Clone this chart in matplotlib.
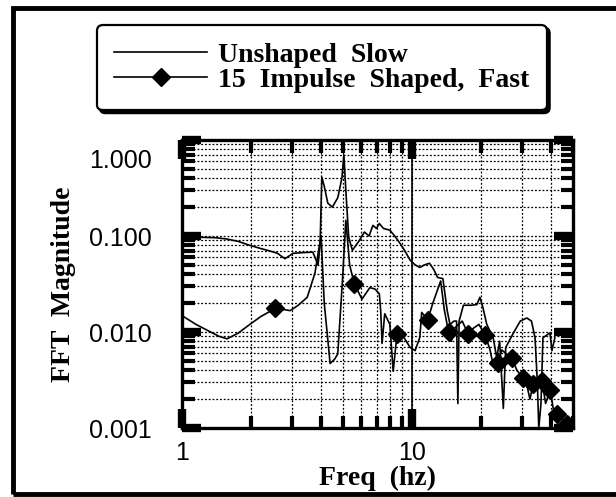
import matplotlib
matplotlib.use("Agg")
from matplotlib import pyplot as plt
from matplotlib.patches import Rectangle
from matplotlib.ticker import LogLocator, NullFormatter, FixedLocator

# unshaped slow response
unshaped_freq = [1.0, 1.2, 1.4, 1.57, 1.75, 1.97, 2.2, 2.4, 2.6, 2.8, 3.04, 3.3, 3.7,
                 3.9, 3.98, 4.05, 4.15, 4.3, 4.5, 4.75, 4.95, 5.05, 5.15, 5.3, 5.5,
                 5.7, 5.9, 6.2, 6.5, 6.75, 7.0, 7.2, 7.5, 8.0, 8.4, 8.85, 9.3, 9.8,
                 10.3, 10.8, 11.3, 11.9, 12.4, 12.9, 13.6, 14.2, 14.6, 15.2, 15.6,
                 15.8, 16.0, 16.7, 18.0, 19.1, 19.7, 20.3, 21.1, 22.5, 23.3, 24.0,
                 24.9, 25.5, 27.5, 29.5, 31.5, 33.0, 34.2, 35.0, 35.5, 36.3, 37.0,
                 39.7, 40.5, 41.7]
unshaped_mag = [0.095, 0.097, 0.096, 0.093, 0.088, 0.080, 0.074, 0.070, 0.066, 0.058,
                0.066, 0.067, 0.068, 0.050, 0.080, 0.41, 0.33, 0.22, 0.20, 0.25, 0.40,
                0.70, 0.30, 0.097, 0.071, 0.080, 0.090, 0.11, 0.10, 0.129, 0.12, 0.135,
                0.12, 0.115, 0.10, 0.084, 0.070, 0.056, 0.050, 0.047, 0.050, 0.052,
                0.045, 0.037, 0.036, 0.0167, 0.012, 0.013, 0.013, 0.0018, 0.013, 0.019,
                0.019, 0.0193, 0.023, 0.018, 0.012, 0.0087, 0.0054, 0.008, 0.0016,
                0.0069, 0.0097, 0.013, 0.014, 0.013, 0.0087, 0.003, 0.001, 0.0018,
                0.0087, 0.0098, 0.0064, 0.0087]

# 15 impulse shaped, fast response
shaped_freq = [1.0, 1.15, 1.3, 1.45, 1.57, 1.75, 1.97, 2.2, 2.54, 2.75, 2.95, 3.2, 3.5,
               3.78, 3.94, 4.02, 4.15, 4.4, 4.6, 4.75, 4.97, 5.15, 5.35, 5.6, 6.05,
               6.55, 6.9, 7.2, 7.3, 7.4, 7.6, 8.0, 8.27, 8.6, 9.2, 9.8, 10.3, 10.8,
               11.0, 11.7, 12.3, 13.3, 13.8, 14.4, 14.8, 15.3, 16.5, 17.5, 18.5, 19.5,
               20.8, 21.8, 22.5, 23.6, 24.5, 25.5, 27.2, 28.5, 30.4, 31.5, 32.5, 33.6,
               35.0, 36.7, 38.0, 39.9, 41.0, 42.7, 44.0, 47.0, 50.0]
shaped_mag = [0.0148, 0.012, 0.0103, 0.009, 0.0085, 0.0097, 0.012, 0.0145, 0.0176,
              0.0172, 0.0167, 0.019, 0.023, 0.041, 0.076, 0.10, 0.02, 0.0047, 0.0052,
              0.0059, 0.032, 0.146, 0.05, 0.032, 0.022, 0.029, 0.028, 0.025, 0.0167,
              0.0076, 0.0155, 0.012, 0.0039, 0.0096, 0.0088, 0.0069, 0.0064, 0.0088,
              0.016, 0.0135, 0.020, 0.034, 0.017, 0.0099, 0.008, 0.011, 0.013, 0.0096,
              0.011, 0.012, 0.0092, 0.0065, 0.0045, 0.0047, 0.0065, 0.006, 0.0053,
              0.004, 0.0033, 0.0028, 0.002, 0.0029, 0.0025, 0.0031, 0.0018, 0.0025,
              0.0016, 0.0014, 0.0013, 0.0011, 0.0011]
# frequencies where the diamonds sit
shaped_marks = [2.54, 5.6, 8.6, 11.7, 14.4, 17.5, 20.8, 23.6, 27.2, 30.4, 33.6, 36.7,
                39.9, 42.7, 47.0]

ytick_vals = [0.001, 0.01, 0.1, 1.0]
ytick_text = ["0.001", "0.010", "0.100", "1.000"]
xtick_vals = [1, 10]
xtick_text = ["1", "10"]

serif = "Liberation Serif"
sans = "Liberation Sans"

fig = plt.figure(figsize=(6.16, 4.97), dpi=100)
ax = fig.add_axes([0.2955, 0.1388, 0.6347, 0.5795])

ax.plot(unshaped_freq, unshaped_mag, color="black", lw=1.2, label="Unshaped  Slow")
mark_idx = [shaped_freq.index(f) for f in shaped_marks]
ax.plot(shaped_freq, shaped_mag, color="black", lw=1.2, marker="D", ms=9,
        markevery=mark_idx, label="15  Impulse  Shaped,  Fast")

ax.set_xscale("log")
ax.set_yscale("log")
ax.set_xlim(1, 50)
ax.set_ylim(0.001, 1.0)

ax.xaxis.set_major_locator(FixedLocator(xtick_vals))
ax.set_xticklabels(xtick_text)
ax.xaxis.set_minor_locator(LogLocator(base=10, subs=range(2, 10)))
ax.xaxis.set_minor_formatter(NullFormatter())
ax.yaxis.set_major_locator(FixedLocator(ytick_vals))
ax.set_yticklabels(ytick_text[:3] + [""])
ax.yaxis.set_minor_locator(LogLocator(base=10, subs=range(2, 10)))
ax.yaxis.set_minor_formatter(NullFormatter())

ax.tick_params(which="both", direction="in", top=True, right=True, color="black")
ax.tick_params(which="major", length=14, width=6, pad=22, labelsize=18)
ax.tick_params(axis="x", which="major", pad=9)
ax.tick_params(which="minor", length=9, width=3)
for lab in ax.get_xticklabels() + ax.get_yticklabels():
    lab.set_fontfamily(sans)
# top label sits lower, inside the frame
ax.annotate(ytick_text[3], xy=(0, 1), xycoords="axes fraction", xytext=(-22, -15),
            textcoords="offset points", ha="right", va="center",
            fontsize=18, family=sans)

ax.grid(True, which="both", color="black", lw=0.9, linestyle=(0, (1.5, 1.5)))
ax.axvline(10, color="black", lw=1.2)
for s in ax.spines.values():
    s.set_linewidth(2.4)

ax.set_xlabel("Freq  (hz)", fontsize=20, fontweight="bold", family=serif)
ax.xaxis.set_label_coords(0.5, -0.13)
ax.set_ylabel("FFT  Magnitude", fontsize=20, fontweight="bold", family=serif)
ax.yaxis.set_label_coords(-0.272, 0.5)

leg = fig.legend(loc="upper left", bbox_to_anchor=(97 / 616, 1 - 25 / 497),
                 borderaxespad=0,
                 prop={"family": serif, "weight": "bold", "size": 20},
                 handlelength=3.35, handletextpad=0.4, labelspacing=0.0,
                 borderpad=0.62, fancybox=True,
                 shadow={"color": "black", "alpha": 1})
leg.get_frame().set_edgecolor("black")
leg.get_frame().set_linewidth(1.6)

# outer frame of the figure
fig.add_artist(Rectangle((13 / 616, 3 / 497), 1.2, 1 - 11 / 497,
                         transform=fig.transFigure, fill=False,
                         edgecolor="black", lw=3.5))

fig.savefig("out.png", dpi=100)
